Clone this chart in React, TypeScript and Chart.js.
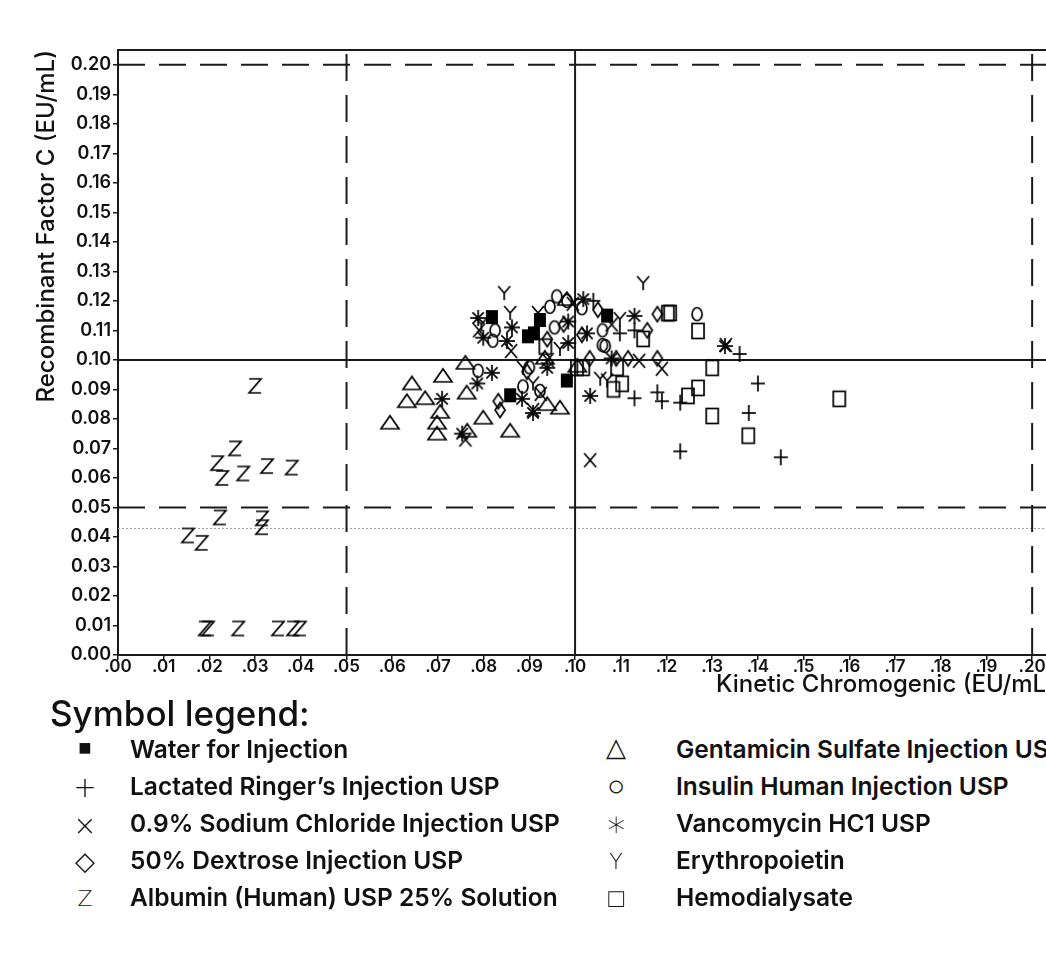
import React, { useEffect, useRef } from 'react';
import { Chart, registerables } from 'chart.js';

Chart.register(...registerables);

const FONT = 'Inter, "Noto Sans", "DejaVu Sans", sans-serif';

// Tick values
const xTickValues = [0, 0.01, 0.02, 0.03, 0.04, 0.05, 0.06, 0.07, 0.08, 0.09, 0.1, 0.11, 0.12, 0.13, 0.14, 0.15, 0.16, 0.17, 0.18, 0.19, 0.2];
const yTickValues = [0, 0.01, 0.02, 0.03, 0.04, 0.05, 0.06, 0.07, 0.08, 0.09, 0.1, 0.11, 0.12, 0.13, 0.14, 0.15, 0.16, 0.17, 0.18, 0.19, 0.2];

// Reference lines
const dashedX = [0.05, 0.2];
const dashedY = [0.05, 0.2];
const solidX = [0.1];
const solidY = [0.1];
const dottedY = [0.0429];

// Series: [Kinetic Chromogenic, Recombinant Factor C]
const waterForInjection = [
  [0.0818, 0.1145], [0.0923, 0.1135], [0.0897, 0.108], [0.0858, 0.088],
  [0.0982, 0.093], [0.107, 0.115], [0.091, 0.109],
];
const lactatedRingers = [
  [0.1098, 0.109], [0.113, 0.087], [0.118, 0.089], [0.119, 0.086], [0.123, 0.0855],
  [0.136, 0.102], [0.14, 0.092], [0.138, 0.082], [0.123, 0.069], [0.145, 0.067],
  [0.104, 0.12], [0.113, 0.11],
];
const sodiumChloride = [
  [0.1033, 0.066], [0.119, 0.097], [0.133, 0.105], [0.114, 0.0997], [0.0908, 0.083],
  [0.0925, 0.0885], [0.076, 0.073], [0.086, 0.103], [0.094, 0.1], [0.0995, 0.119],
  [0.108, 0.112], [0.079, 0.11],
];
const dextrose = [
  [0.105, 0.117], [0.118, 0.1155], [0.1158, 0.11], [0.109, 0.1005], [0.1116, 0.1005],
  [0.118, 0.1005], [0.0832, 0.086], [0.0836, 0.083], [0.0939, 0.107], [0.1032, 0.1005],
  [0.1015, 0.1085], [0.0975, 0.112], [0.0895, 0.096],
];
const albumin = [
  [0.03, 0.0912], [0.0256, 0.07], [0.0217, 0.065], [0.0228, 0.06], [0.0274, 0.0615],
  [0.0326, 0.064], [0.038, 0.0635], [0.0223, 0.0466], [0.0315, 0.0463], [0.0315, 0.0433],
  [0.0153, 0.0405], [0.0183, 0.038], [0.019, 0.009], [0.0197, 0.009], [0.0263, 0.009],
  [0.035, 0.009], [0.0383, 0.009], [0.0398, 0.009],
];
const gentamicin = [
  [0.076, 0.099], [0.0711, 0.0946], [0.0643, 0.092], [0.0632, 0.086], [0.0672, 0.087],
  [0.0763, 0.0889], [0.0595, 0.0787], [0.0705, 0.0824], [0.0698, 0.0787], [0.0698, 0.075],
  [0.0764, 0.076], [0.0799, 0.0804], [0.0858, 0.076], [0.0967, 0.0838], [0.0939, 0.085],
  [0.0982, 0.1206], [0.0934, 0.1007], [0.1005, 0.098],
];
const insulin = [
  [0.0825, 0.11], [0.082, 0.1065], [0.096, 0.1215], [0.0945, 0.118], [0.0982, 0.12],
  [0.106, 0.11], [0.106, 0.105], [0.1267, 0.1155], [0.1066, 0.1047], [0.0788, 0.0963],
  [0.0886, 0.091], [0.0923, 0.0895], [0.1015, 0.1175], [0.0955, 0.111], [0.09, 0.0975],
];
const vancomycin = [
  [0.0799, 0.1075], [0.0788, 0.1142], [0.0851, 0.1064], [0.0862, 0.111], [0.0818, 0.0956],
  [0.0786, 0.092], [0.0709, 0.0868], [0.0884, 0.0868], [0.0908, 0.082], [0.0939, 0.0973],
  [0.0985, 0.1057], [0.1018, 0.1206], [0.1026, 0.109], [0.1033, 0.0878], [0.0753, 0.075],
  [0.113, 0.1149], [0.1328, 0.1047], [0.0985, 0.113], [0.108, 0.1005],
];
const erythropoietin = [
  [0.0845, 0.1226], [0.0858, 0.1159], [0.1149, 0.126], [0.0919, 0.1159], [0.0886, 0.0973],
  [0.0967, 0.1037], [0.1055, 0.0936], [0.107, 0.093], [0.0908, 0.092], [0.1098, 0.1138],
  [0.0795, 0.112],
];
const hemodialysate = [
  [0.1208, 0.1159], [0.1269, 0.1098], [0.13, 0.0973], [0.1269, 0.0905], [0.1247, 0.0878],
  [0.1084, 0.09], [0.1103, 0.0919], [0.13, 0.081], [0.1379, 0.0743], [0.1578, 0.0868],
  [0.1149, 0.1071], [0.1092, 0.0973], [0.1018, 0.0973], [0.1004, 0.0973], [0.0935, 0.1045],
  [0.1203, 0.1158],
];

const seriesNames = [
  'Water for Injection',
  'Lactated Ringer\u2019s Injection USP',
  '0.9% Sodium Chloride Injection USP',
  '50% Dextrose Injection USP',
  'Albumin (Human) USP 25% Solution',
  'Gentamicin Sulfate Injection USP',
  'Insulin Human Injection USP',
  'Vancomycin HC1 USP',
  'Erythropoietin',
  'Hemodialysate',
];
const seriesData = [
  waterForInjection, lactatedRingers, sodiumChloride, dextrose, albumin,
  gentamicin, insulin, vancomycin, erythropoietin, hemodialysate,
];
const seriesMarkers = ['fsquare', 'plus', 'x', 'diamond', 'z', 'triangle', 'circle', 'star', 'y', 'square'];
const legendGlyphs = ['\u25A0', '+', '\u00D7', '\u25C7', 'Z', '\u25B3', '\u25CB', '\u2217', 'Y', '\u25A1'];
const legendGlyphSizes = [22, 28, 28, 26, 22, 26, 30, 36, 22, 26];
const legendGlyphShift = [0, -1, 0, 0, 3, -3, -4, -6, 3, 0];

function makeMarker(kind: string): HTMLCanvasElement {
  const S = 24;
  const c = document.createElement('canvas');
  c.width = S;
  c.height = S;
  const ctx = c.getContext('2d')!;
  const cx = S / 2;
  const cy = S / 2;
  ctx.strokeStyle = '#000';
  ctx.fillStyle = '#000';
  ctx.lineWidth = 1.7;
  ctx.lineCap = 'butt';
  ctx.lineJoin = 'miter';
  const line = (x1: number, y1: number, x2: number, y2: number) => {
    ctx.beginPath();
    ctx.moveTo(x1, y1);
    ctx.lineTo(x2, y2);
    ctx.stroke();
  };
  switch (kind) {
    case 'fsquare':
      ctx.fillRect(cx - 6, cy - 7, 12, 14);
      break;
    case 'square':
      ctx.strokeRect(cx - 6, cy - 7.5, 12, 15);
      break;
    case 'plus':
      line(cx - 7, cy, cx + 7, cy);
      line(cx, cy - 8, cx, cy + 8);
      break;
    case 'x':
      line(cx - 6, cy - 7, cx + 6, cy + 7);
      line(cx + 6, cy - 7, cx - 6, cy + 7);
      break;
    case 'diamond':
      ctx.beginPath();
      ctx.moveTo(cx, cy - 7.5);
      ctx.lineTo(cx + 5, cy);
      ctx.lineTo(cx, cy + 7.5);
      ctx.lineTo(cx - 5, cy);
      ctx.closePath();
      ctx.stroke();
      break;
    case 'triangle':
      ctx.beginPath();
      ctx.moveTo(cx, cy - 7);
      ctx.lineTo(cx + 9, cy + 6);
      ctx.lineTo(cx - 9, cy + 6);
      ctx.closePath();
      ctx.stroke();
      break;
    case 'circle':
      ctx.beginPath();
      ctx.ellipse(cx, cy, 5, 6.5, 0, 0, Math.PI * 2);
      ctx.stroke();
      break;
    case 'star': {
      for (let i = 0; i < 4; i++) {
        const a = (i * Math.PI) / 4;
        const dx = Math.cos(a) * 8;
        const dy = Math.sin(a) * 8;
        line(cx - dx, cy - dy, cx + dx, cy + dy);
      }
      break;
    }
    case 'z':
      ctx.beginPath();
      ctx.moveTo(cx - 6, cy - 7);
      ctx.lineTo(cx + 6, cy - 7);
      ctx.lineTo(cx - 6, cy + 7);
      ctx.lineTo(cx + 6, cy + 7);
      ctx.stroke();
      break;
    case 'y':
      line(cx - 6, cy - 7, cx, cy);
      line(cx + 6, cy - 7, cx, cy);
      line(cx, cy, cx, cy + 7);
      break;
  }
  return c;
}

const refLinesPlugin = {
  id: 'refLines',
  beforeDatasetsDraw(chart: any) {
    const { ctx, chartArea, scales } = chart;
    const xs = scales.x;
    const ys = scales.y;
    ctx.save();
    ctx.lineWidth = 1;
    ctx.strokeStyle = '#a0a0a0';
    ctx.setLineDash([2, 2]);
    dottedY.forEach((v) => {
      const py = Math.round(ys.getPixelForValue(v)) + 0.5;
      ctx.beginPath();
      ctx.moveTo(chartArea.left, py);
      ctx.lineTo(chartArea.right, py);
      ctx.stroke();
    });
    ctx.strokeStyle = '#1a1a1a';
    ctx.lineWidth = 2;
    ctx.setLineDash([27, 14]);
    dashedX.forEach((v) => {
      const px = xs.getPixelForValue(v);
      ctx.beginPath();
      ctx.moveTo(px, chartArea.bottom);
      ctx.lineTo(px, chartArea.top);
      ctx.stroke();
    });
    dashedY.forEach((v) => {
      const py = ys.getPixelForValue(v);
      ctx.beginPath();
      ctx.moveTo(chartArea.left, py);
      ctx.lineTo(chartArea.right, py);
      ctx.stroke();
    });
    ctx.setLineDash([]);
    solidX.forEach((v) => {
      const px = xs.getPixelForValue(v);
      ctx.beginPath();
      ctx.moveTo(px, chartArea.bottom);
      ctx.lineTo(px, chartArea.top);
      ctx.stroke();
    });
    solidY.forEach((v) => {
      const py = ys.getPixelForValue(v);
      ctx.beginPath();
      ctx.moveTo(chartArea.left, py);
      ctx.lineTo(chartArea.right, py);
      ctx.stroke();
    });
    ctx.lineWidth = 2;
    ctx.strokeStyle = '#1a1a1a';
    ctx.beginPath();
    ctx.moveTo(chartArea.left, chartArea.top);
    ctx.lineTo(chartArea.right, chartArea.top);
    ctx.lineTo(chartArea.right, chartArea.bottom);
    ctx.stroke();
    ctx.restore();
  },
};

function ChartCanvas() {
  const ref = useRef<HTMLCanvasElement | null>(null);
  useEffect(() => {
    if (!ref.current) return;
    const datasets = seriesNames.map((name, i) => {
      const img = makeMarker(seriesMarkers[i]);
      return {
        label: name,
        data: seriesData[i].map(([x, y]) => ({ x, y })),
        pointStyle: img,
        pointRadius: 6,
        showLine: false,
      };
    });
    const chart = new Chart(ref.current, {
      type: 'scatter',
      data: { datasets },
      plugins: [refLinesPlugin],
      options: {
        animation: false,
        responsive: false,
        layout: { padding: { left: 0, top: 50, right: 45, bottom: 0 } },
        plugins: { legend: { display: false }, tooltip: { enabled: false } },
        scales: {
          x: {
            type: 'linear',
            min: 0,
            max: 0.205,
            afterFit: (s: any) => { s.height = 45; },
            afterBuildTicks: (s: any) => { s.ticks = xTickValues.map((v) => ({ value: v })); },
            ticks: {
              color: '#111',
              padding: -3,
              autoSkip: false,
              maxRotation: 0,
              font: { family: FONT, size: 17, weight: '600' },
              callback: (v: any) => Number(v).toFixed(2).replace(/^0/, ''),
            },
            grid: { drawOnChartArea: false, drawTicks: true, tickLength: 5, color: '#1a1a1a', lineWidth: 1.5 },
            border: { display: true, color: '#1a1a1a', width: 2 },
            title: {
              display: true,
              text: 'Kinetic Chromogenic (EU/mL)',
              align: 'end',
              color: '#111',
              font: { family: FONT, size: 24, weight: '500' },
              padding: { top: 0, bottom: 1 },
            },
          },
          y: {
            type: 'linear',
            min: 0,
            max: 0.205,
            afterFit: (s: any) => { s.width = 118; },
            afterBuildTicks: (s: any) => { s.ticks = yTickValues.map((v) => ({ value: v })); },
            ticks: {
              color: '#111',
              padding: 2,
              autoSkip: false,
              font: { family: FONT, size: 18, weight: '600' },
              callback: (v: any) => Number(v).toFixed(2),
            },
            grid: { drawOnChartArea: false, drawTicks: true, tickLength: 5, color: '#1a1a1a', lineWidth: 1.5 },
            border: { display: true, color: '#1a1a1a', width: 2 },
            title: {
              display: true,
              text: 'Recombinant Factor C (EU/mL)',
              align: 'end',
              color: '#111',
              font: { family: FONT, size: 24, weight: '500' },
              padding: { top: 32, bottom: 0 },
            },
          },
        },
      } as any,
    });
    return () => chart.destroy();
  }, []);
  return <canvas ref={ref} width={1100} height={700} style={{ width: 1100, height: 700, display: 'block' }} />;
}

const legendRows = [749, 786, 823, 860, 897];

export default function App() {
  return (
    <div style={{ position: 'absolute', left: 0, top: 0, width: 1046, height: 970, overflow: 'hidden', background: '#fff' }}>
      <div style={{ position: 'absolute', left: 0, top: 0 }}>
        <ChartCanvas />
      </div>
      <div style={{ position: 'absolute', left: 50, top: 692, font: `500 35px ${FONT}`, color: '#111', whiteSpace: 'nowrap' }}>
        Symbol legend:
      </div>
      {seriesNames.map((name, i) => {
        const col = i < 5 ? 0 : 1;
        const row = i % 5;
        const symX = col === 0 ? 85 : 616;
        const textX = col === 0 ? 130 : 676;
        const cy = legendRows[row];
        return (
          <React.Fragment key={name}>
            <div style={{ position: 'absolute', left: symX - 20, width: 40, top: cy - 14 + legendGlyphShift[i], height: 40, lineHeight: '40px', textAlign: 'center', font: `300 ${legendGlyphSizes[i]}px "DejaVu Sans", sans-serif`, color: '#111' }}>
              {legendGlyphs[i]}
            </div>
            <div style={{ position: 'absolute', left: textX, top: cy - 15, height: 32, lineHeight: '32px', font: `600 24.5px ${FONT}`, color: '#111', whiteSpace: 'nowrap' }}>
              {name}
            </div>
          </React.Fragment>
        );
      })}
    </div>
  );
}
